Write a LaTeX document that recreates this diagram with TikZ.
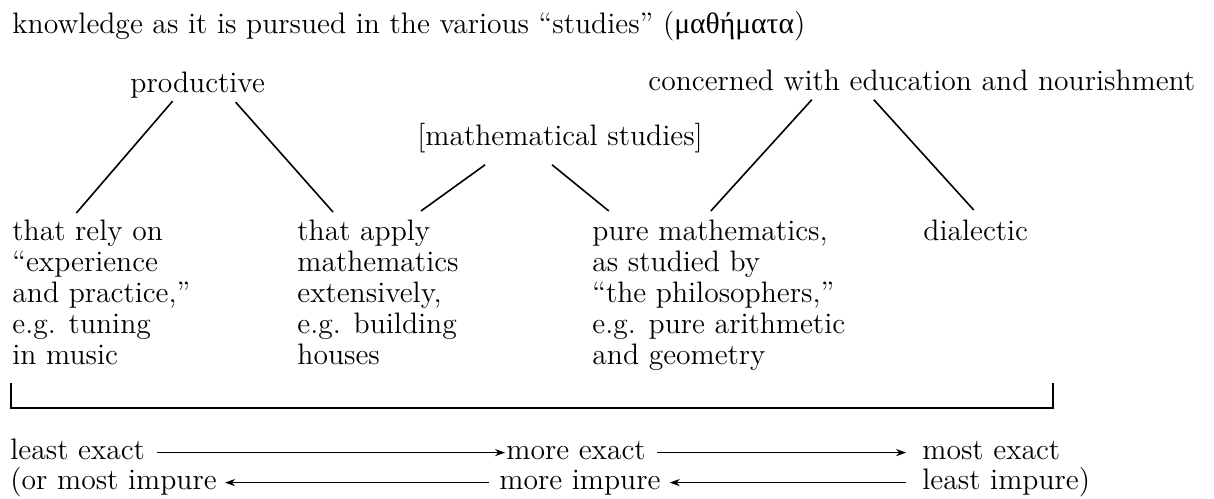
\documentclass[tikz,border=0pt]{standalone}
\usepackage{fontspec}
\newfontfamily\greekfont{Liberation Serif}
\usetikzlibrary{calc, arrows.meta}

\begin{document}
\begin{tikzpicture}[x=0.5pt, y=-0.5pt,
    every node/.style={inner sep=0pt, font=\fontsize{14.8}{15.5}\selectfont},
    block/.style={anchor=north west, align=left},
    branch/.style={line width=0.8pt},
    scaleline/.style={line width=0.5pt, -{Stealth[length=5pt,width=3.6pt]}}]
    \useasboundingbox (0,0) rectangle (1214,498);
    \node[anchor=base west] (title) at (12,33) {knowledge as it is pursued in the various “studies” ({\greekfont μαθήματα})};
    \node[anchor=base west] (prod) at (130,92) {productive};
    \node[anchor=base west] (conc) at (648,90) {concerned with education and nourishment};
    \node[anchor=base west] (math) at (417,145) {[mathematical studies]};
    \node[block] (rely) at (12,220) {that rely on\\“experience\\and practice,”\\e.g. tuning\\in music};
    \node[block] (apply) at (297,220) {that apply\\mathematics\\extensively,\\e.g. building\\houses};
    \node[block] (pure) at (592,220) {pure mathematics,\\as studied by\\“the philosophers,”\\e.g. pure arithmetic\\and geometry};
    \node[block] (dial) at (923,220) {dialectic};
    \draw[branch] ($(prod.south)+(-25,3)$) -- ($(rely.north)+(-25,-7)$);
    \draw[branch] ($(prod.south)+(38,4)$) -- ($(apply.north)+(-45,-8)$);
    \draw[branch] ($(math.south)+(-75,12)$) -- ($(apply.north)+(43,-9)$);
    \draw[branch] ($(math.south)+(-8,12)$) -- ($(pure.north)+(-110,-9)$);
    \draw[branch] ($(conc.south)+(-110,9)$) -- ($(pure.north)+(-8,-9)$);
    \draw[branch] ($(conc.south)+(-48,9)$) -- ($(dial.north)+(-2,-10)$);
    % exactness scale
    \draw[line width=0.9pt] (11,383) |- (1053,408) -- (1053,383);
    \node[anchor=base west] (lex) at (10,459) {least exact};
    \node[anchor=base west] (mex) at (506,459) {more exact};
    \node[anchor=base west] (mox) at (922,459) {most exact};
    \node[anchor=base west] (mip) at (10,489) {(or most impure};
    \node[anchor=base west] (moi) at (499,489) {more impure};
    \node[anchor=base west] (lip) at (922,489) {least impure)};
    \draw[scaleline] ([xshift=6pt,yshift=3.2pt]lex.base east) -- ([xshift=-0.5pt,yshift=3.2pt]mex.base west);
    \draw[scaleline] ([xshift=5.5pt,yshift=3.2pt]mex.base east) -- ([xshift=-8pt,yshift=3.2pt]mox.base west);
    \draw[scaleline] ([xshift=-5pt,yshift=3.2pt]moi.base west) -- ([xshift=4pt,yshift=3.2pt]mip.base east);
    \draw[scaleline] ([xshift=-8pt,yshift=3.2pt]lip.base west) -- ([xshift=4.5pt,yshift=3.2pt]moi.base east);
\end{tikzpicture}
\end{document}
